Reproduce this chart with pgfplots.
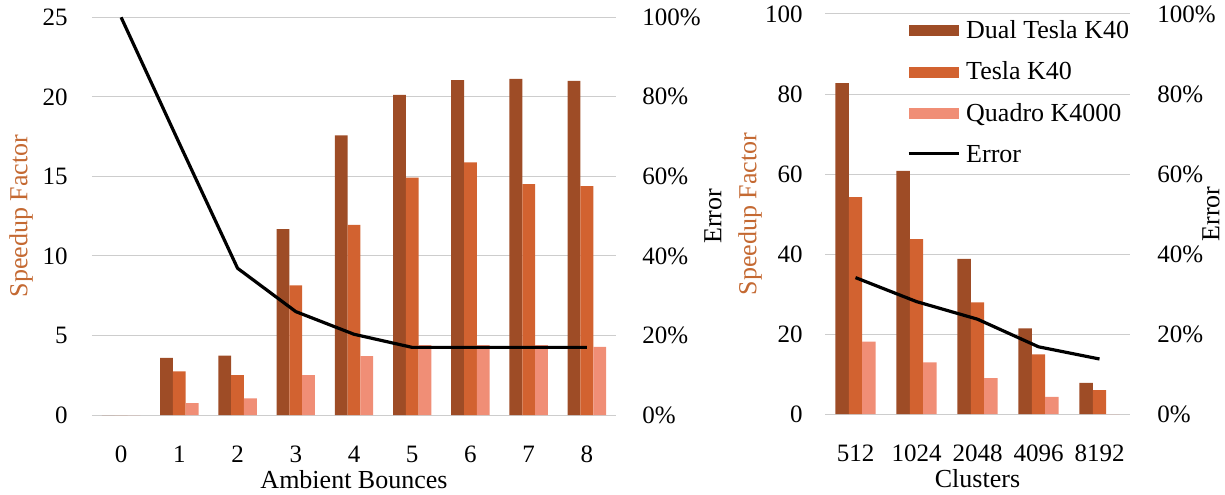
\documentclass[border=0pt]{standalone}
\usepackage{fontspec}
\setmainfont{Liberation Serif}
\usepackage{pgfplots}
\pgfplotsset{compat=1.18}

\definecolor{dualK}{RGB}{158,76,38}
\definecolor{teslaK}{RGB}{210,98,48}
\definecolor{quadroK}{RGB}{240,142,118}
\definecolor{speedlab}{RGB}{196,105,50}
\definecolor{gridgray}{RGB}{205,205,205}

\newcommand\titlefont{\fontsize{13}{15}\selectfont}

\pgfplotsset{
  common/.style={
    scale only axis,
    /pgf/number format/assume math mode=true,
    tick style={draw=none},
    axis line style={draw=none},
  },
  % speedup bars, left axis
  bars/.style 2 args={
    common,
    ybar=0pt, bar width=0.22,
    ymin=0,
    ymajorgrids, grid style={gridgray, line width=0.5pt},
    yticklabel style={anchor=east, inner sep=0pt, xshift=-#1},
    xticklabel style={anchor=base, inner sep=0pt, yshift=-19.5pt},
    every axis x label/.style={at={(axis description cs:0.5,0)}, anchor=base, inner sep=0pt, yshift=-36.5pt, font=\titlefont},
    every axis y label/.style={at={(axis description cs:#2,0.5)}, anchor=center, rotate=90, inner sep=0pt, text=speedlab, font=\titlefont},
  },
  % error curve, right axis
  errax/.style 2 args={
    common,
    axis x line=none,
    axis y line*=right,
    axis line style={draw=none},
    clip=false,
    ymin=0, ymax=100, ytick={0,20,...,100},
    yticklabel={\pgfmathprintnumber{\tick}\%},
    yticklabel style={anchor=west, inner sep=0pt, xshift=#1},
    every axis y label/.style={at={(axis description cs:#2,0.5)}, anchor=center, rotate=90, inner sep=0pt, font=\titlefont},
  },
  errline/.style={black, line width=1.6pt, line join=round},
  patchlegend/.style={legend image code/.code={\fill[##1] (0pt,-2.5pt) rectangle (25pt,3pt);}},
  linelegend/.style={legend image code/.code={\draw[##1] (0pt,1.3pt) -- (25pt,1.3pt);}},
}

\begin{document}
\fontsize{12.5}{15}\selectfont
\begin{tikzpicture}
\path[use as bounding box] (0,0) rectangle (612.5pt,247pt);

% ---------------- Ambient bounces ----------------
\begin{axis}[bars={12pt}{-0.1355},
  at={(46pt,39.5pt)}, anchor=south west,
  width=262pt, height=198.85pt,
  xmin=-0.5, xmax=8.5, ymax=25,
  xtick={0,...,8}, ytick={0,5,...,25},
  xlabel={Ambient Bounces}, ylabel={Speedup Factor}]
\addplot[fill=dualK, draw=none] coordinates
  {(0,0) (1,3.59) (2,3.74) (3,11.68) (4,17.58) (5,20.13) (6,21.05) (7,21.13) (8,21.0)};
\addplot[fill=teslaK, draw=none] coordinates
  {(0,0) (1,2.75) (2,2.50) (3,8.15) (4,11.95) (5,14.92) (6,15.88) (7,14.52) (8,14.39)};
\addplot[fill=quadroK, draw=none] coordinates
  {(0,0) (1,0.74) (2,1.05) (3,2.50) (4,3.70) (5,4.39) (6,4.39) (7,4.39) (8,4.29)};
\end{axis}
\begin{axis}[errax={13pt}{1.185},
  at={(46pt,39.5pt)}, anchor=south west,
  width=262pt, height=198.85pt,
  xmin=-0.5, xmax=8.5, ylabel={Error}]
\addplot[errline] coordinates
  {(0,100) (1,68.3) (2,36.9) (3,26.0) (4,20.3) (5,17.0) (6,17.0) (7,17.0) (8,17.0)};
\end{axis}

% ---------------- Clusters ----------------
\begin{axis}[bars={11pt}{-0.2459},
  at={(412.5pt,40pt)}, anchor=south west,
  width=152.5pt, height=200pt,
  xmin=-0.5, xmax=4.5, ymax=100,
  xtick={0,...,4}, xticklabels={512,1024,2048,4096,8192},
  ytick={0,20,...,100},
  xlabel={Clusters}, ylabel={Speedup Factor},
  legend cell align=left,
  legend style={at={(axis description cs:0.2689,0.985)}, anchor=north west,
    draw=none, fill=none, inner sep=0pt, outer sep=0pt,
    row sep=10pt, column sep=3pt, font=\titlefont,
    nodes={inner sep=0pt}}]
\addplot[fill=dualK, draw=none, patchlegend] coordinates
  {(0,82.75) (1,60.8) (2,38.8) (3,21.4) (4,7.8)};
\addplot[fill=teslaK, draw=none, patchlegend] coordinates
  {(0,54.2) (1,43.7) (2,27.9) (3,14.9) (4,6.0)};
\addplot[fill=quadroK, draw=none, patchlegend] coordinates
  {(0,18.1) (1,12.9) (2,9.0) (3,4.3) (4,0)};
\addlegendimage{errline, linelegend}
\legend{Dual Tesla K40, Tesla K40, \raisebox{0pt}[\height][0pt]{Quadro K4000}, Error}
\end{axis}
\begin{axis}[errax={13.5pt}{1.2656},
  at={(412.5pt,40pt)}, anchor=south west,
  width=152.5pt, height=200pt,
  xmin=-0.5, xmax=4.5, ylabel={Error}]
\addplot[errline] coordinates
  {(0,34.1) (1,28.1) (2,23.7) (3,16.8) (4,13.75)};
\end{axis}
\end{tikzpicture}
\end{document}
